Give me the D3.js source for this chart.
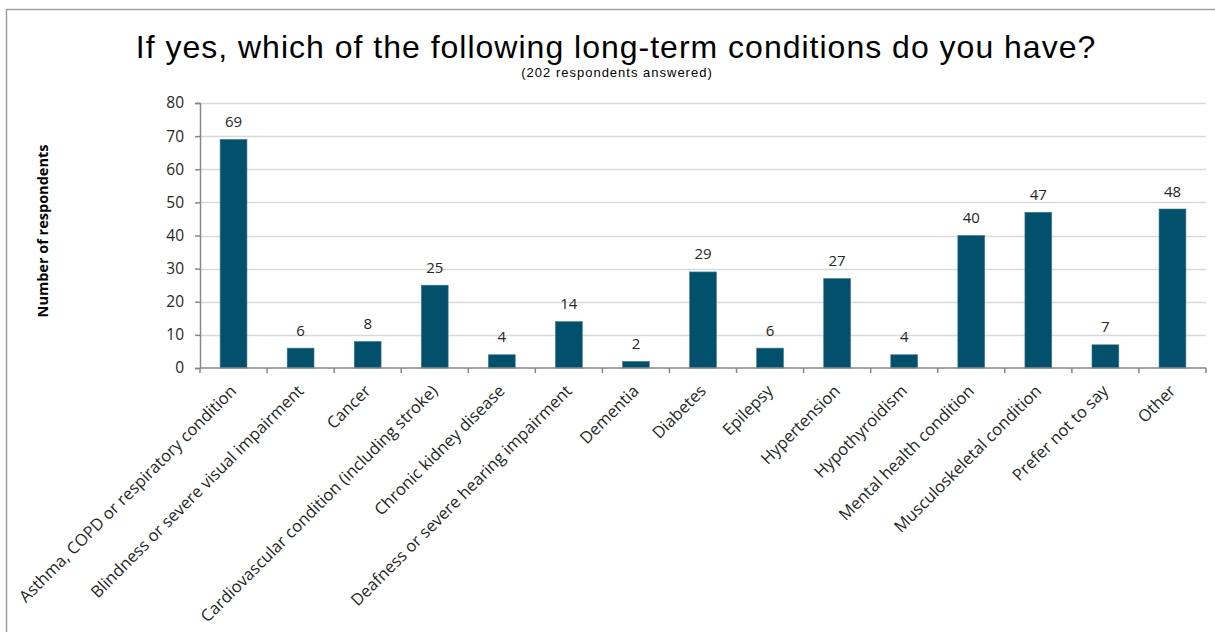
<!DOCTYPE html>
<html>
<head>
<meta charset="utf-8">
<script src="https://cdn.jsdelivr.net/npm/d3@7"></script>
<style>
  html, body { margin: 0; padding: 0; background: #fff; }
  svg { display: block; }
</style>
</head>
<body>
<svg id="chart" width="1215" height="632"></svg>
<script>
const categories = [
  "Asthma, COPD or respiratory condition",
  "Blindness or severe visual impairment",
  "Cancer",
  "Cardiovascular condition (including stroke)",
  "Chronic kidney disease",
  "Deafness or severe hearing impairment",
  "Dementia",
  "Diabetes",
  "Epilepsy",
  "Hypertension",
  "Hypothyroidism",
  "Mental health condition",
  "Musculoskeletal condition",
  "Prefer not to say",
  "Other"
];
const respondents = [69, 6, 8, 25, 4, 14, 2, 29, 6, 27, 4, 40, 47, 7, 48];
const yTicks = [0, 10, 20, 30, 40, 50, 60, 70, 80];

const titleText = "If yes, which of the following long-term conditions do you have?";
const subtitleText = "(202 respondents answered)";
const yAxisTitle = "Number of respondents";

const svg = d3.select("#chart");
const labelFont = "'Open Sans', 'Noto Sans', sans-serif";
const titleFont = "'Liberation Sans', Arial, sans-serif";

// outer frame (left and top edges visible in the viewport)
svg.append("rect")
  .attr("x", 6.5).attr("y", 9.5)
  .attr("width", 1240).attr("height", 660)
  .attr("fill", "none").attr("stroke", "#a0a0a0").attr("stroke-width", 1.5);

const plot = { left: 200, right: 1206, top: 103, bottom: 368 };

const x = d3.scaleBand().domain(categories).range([plot.left, plot.right]).padding(0);
const y = d3.scaleLinear().domain([0, 80]).range([plot.bottom, plot.top]);

// horizontal gridlines
svg.append("g").selectAll("line")
  .data(yTicks.filter(t => t > 0))
  .join("line")
  .attr("x1", plot.left).attr("x2", plot.right)
  .attr("y1", d => Math.round(y(d)) + 0.5).attr("y2", d => Math.round(y(d)) + 0.5)
  .attr("stroke", "#d9d9d9").attr("stroke-width", 1.5);

// bars
const barW = x.bandwidth() * 0.4;
svg.append("g").selectAll("rect")
  .data(respondents)
  .join("rect")
  .attr("x", (d, i) => x(categories[i]) + (x.bandwidth() - barW) / 2)
  .attr("y", d => y(d))
  .attr("width", barW)
  .attr("height", d => y(0) - y(d))
  .attr("fill", "#02506b")
  .attr("stroke", "#3f7a90").attr("stroke-width", 0.6);

// value labels
svg.append("g").selectAll("text")
  .data(respondents)
  .join("text")
  .attr("x", (d, i) => x(categories[i]) + x.bandwidth() / 2)
  .attr("y", d => y(d) - 12.5)
  .attr("text-anchor", "middle")
  .attr("font-family", labelFont)
  .attr("font-size", 15)
  .attr("fill", "#262626")
  .text(d => d);

// y axis
const yAxis = svg.append("g")
  .attr("transform", `translate(${plot.left},0)`)
  .call(d3.axisLeft(y).tickValues(yTicks).tickSize(5).tickPadding(11));
yAxis.select(".domain").attr("stroke", "#868686").attr("stroke-width", 1.5);
yAxis.selectAll(".tick line").attr("stroke", "#868686").attr("stroke-width", 1.5);
yAxis.selectAll(".tick text")
  .attr("font-family", labelFont).attr("font-size", 15.5).attr("fill", "#262626");

// x axis with ticks at category boundaries
const xAxis = svg.append("g").attr("transform", `translate(0,${plot.bottom})`);
xAxis.append("line")
  .attr("x1", plot.left).attr("x2", plot.right)
  .attr("stroke", "#868686").attr("stroke-width", 1.5);
const boundaries = categories.map(c => x(c)).concat([plot.right]);
xAxis.selectAll("line.tick")
  .data(boundaries)
  .join("line")
  .attr("class", "tick")
  .attr("x1", d => d).attr("x2", d => d)
  .attr("y1", 0).attr("y2", 5)
  .attr("stroke", "#868686").attr("stroke-width", 1.5);

// rotated category labels
xAxis.selectAll("text")
  .data(categories)
  .join("text")
  .attr("transform", c => `translate(${x(c) + x.bandwidth() / 2 + 4},${24}) rotate(-45)`)
  .attr("text-anchor", "end")
  .attr("font-family", labelFont)
  .attr("font-size", 16.5)
  .attr("fill", "#262626")
  .text(c => c);

// axis title
svg.append("text")
  .attr("transform", `translate(48,231) rotate(-90)`)
  .attr("text-anchor", "middle")
  .attr("font-family", labelFont)
  .attr("font-weight", "bold")
  .attr("font-size", 14.5)
  .attr("fill", "#000")
  .text(yAxisTitle);

// titles
svg.append("text")
  .attr("x", 616).attr("y", 58)
  .attr("text-anchor", "middle")
  .attr("font-family", titleFont)
  .attr("font-size", 32)
  .attr("letter-spacing", 1)
  .attr("fill", "#000")
  .text(titleText);

svg.append("text")
  .attr("x", 617).attr("y", 77)
  .attr("text-anchor", "middle")
  .attr("font-family", titleFont)
  .attr("font-size", 13)
  .attr("letter-spacing", 1)
  .attr("fill", "#000")
  .text(subtitleText);
</script>
</body>
</html>
